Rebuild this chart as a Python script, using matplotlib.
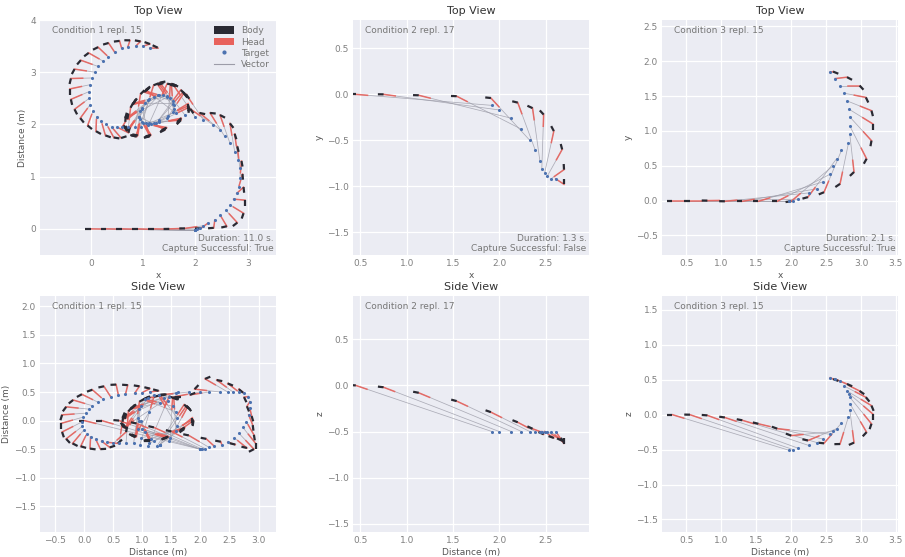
import numpy as np
import matplotlib
matplotlib.use("Agg")
import matplotlib.pyplot as plt
from matplotlib.patches import Patch
from matplotlib.lines import Line2D
from matplotlib.ticker import MultipleLocator

plt.rcParams["font.family"] = "DejaVu Sans"

# condition 1, repl. 15 : pursuer (p) and target (t) positions, x / y / z (m)
c1_px = [0.00, 0.30, 0.60, 0.90, 1.20, 1.50, 1.80, 2.10, 2.35,
         2.60, 2.80, 2.92, 2.95, 2.92, 2.90, 2.88, 2.80, 2.75, 2.66, 2.47, 2.28, 2.08,
         1.90, 1.82, 1.57, 1.32, 1.05, 0.82, 0.66, 0.68, 0.86, 1.12, 1.42, 1.72,
         1.87, 1.76, 1.52, 1.28, 1.02, 0.80, 0.70, 0.72, 0.90, 1.15, 1.45, 1.73,
         1.88, 1.78, 1.54, 1.30, 1.04, 0.81, 0.68, 0.70, 0.88, 1.13, 1.43, 1.72,
         1.86, 1.72, 1.46, 1.20, 0.95, 0.76, 0.66, 0.72,
         0.58, 0.44, 0.28, 0.10, -0.06, -0.20, -0.31, -0.38, -0.40, -0.38,
         -0.31, -0.19, -0.04, 0.14, 0.34, 0.55, 0.75, 0.95, 1.13, 1.28]
c1_py = [0.00, 0.00, 0.00, 0.00, 0.00, 0.00, 0.01, 0.01, 0.02,
         0.05, 0.12, 0.30, 0.55, 0.80, 1.05, 1.30, 1.58, 1.82, 2.02, 2.18, 2.22, 2.22,
         2.30, 2.58, 2.77, 2.80, 2.66, 2.41, 2.12, 1.89, 1.77, 1.77, 1.90, 2.08,
         2.36, 2.62, 2.76, 2.76, 2.62, 2.38, 2.10, 1.88, 1.79, 1.80, 1.94, 2.12,
         2.33, 2.60, 2.78, 2.78, 2.64, 2.40, 2.11, 1.87, 1.77, 1.78, 1.92, 2.10,
         2.40, 2.66, 2.78, 2.75, 2.58, 2.32, 2.05, 1.84,
         1.74, 1.75, 1.79, 1.87, 1.98, 2.12, 2.29, 2.48, 2.68, 2.88,
         3.06, 3.23, 3.37, 3.48, 3.56, 3.60, 3.61, 3.59, 3.54, 3.47]
c1_pz = [0.00, 0.00, 0.00, -0.05, -0.12, -0.19, -0.26, -0.32, -0.37,
         -0.42, -0.48, -0.50, -0.40, -0.25, -0.08, 0.08, 0.25, 0.41, 0.55, 0.65, 0.71, 0.73,
         0.55, 0.45, 0.42, 0.45, 0.38, 0.22, 0.05, -0.12, -0.28, -0.35, -0.30, -0.15,
         0.02, 0.26, 0.40, 0.44, 0.37, 0.20, 0.03, -0.14, -0.28, -0.34, -0.28, -0.12,
         0.00, 0.24, 0.41, 0.45, 0.38, 0.21, 0.04, -0.13, -0.29, -0.35, -0.29, -0.13,
         0.05, 0.28, 0.42, 0.42, 0.33, 0.16, -0.02, -0.20,
         -0.40, -0.47, -0.50, -0.49, -0.45, -0.40, -0.32, -0.20, -0.05, 0.10,
         0.24, 0.36, 0.46, 0.54, 0.60, 0.63, 0.62, 0.60, 0.56, 0.52]
c1_tx = [1.99, 1.99, 1.99, 1.99, 2.03, 2.08, 2.15, 2.24, 2.37,
         2.47, 2.58, 2.66, 2.73, 2.79, 2.83, 2.85, 2.85, 2.82, 2.75, 2.66, 2.56, 2.47,
         2.34, 2.15, 1.99, 1.80, 1.62, 1.58, 1.46, 1.30, 1.12, 0.98, 0.92, 0.98,
         1.12, 1.30, 1.48, 1.60, 1.58, 1.45, 1.28, 1.10, 0.97, 0.93, 1.00, 1.15,
         1.30, 1.46, 1.58, 1.60, 1.52, 1.38, 1.20, 1.04, 0.95, 0.95, 1.05, 1.20,
         1.30, 1.25, 1.10, 0.96, 0.85, 0.72, 0.60, 0.50,
         0.40, 0.30, 0.20, 0.11, 0.04, -0.01, -0.03, -0.03, -0.02, 0.03,
         0.08, 0.14, 0.24, 0.33, 0.46, 0.59, 0.71, 0.87, 1.00, 1.13]
c1_ty = [-0.03, -0.03, -0.03, -0.03, -0.01, 0.02, 0.06, 0.11, 0.17,
         0.27, 0.36, 0.46, 0.57, 0.68, 0.81, 0.97, 1.16, 1.32, 1.48, 1.64, 1.77, 1.90,
         1.99, 2.09, 2.15, 2.18, 2.22, 2.40, 2.52, 2.56, 2.48, 2.32, 2.15, 2.04,
         2.02, 2.08, 2.16, 2.30, 2.44, 2.54, 2.56, 2.47, 2.30, 2.14, 2.03, 2.00,
         2.05, 2.12, 2.24, 2.38, 2.50, 2.56, 2.53, 2.42, 2.26, 2.10, 2.02, 2.02,
         2.06, 2.02, 1.98, 1.96, 1.95, 1.95, 1.95, 1.95,
         1.95, 2.01, 2.07, 2.15, 2.25, 2.38, 2.50, 2.63, 2.76, 2.89,
         3.00, 3.11, 3.21, 3.30, 3.38, 3.46, 3.49, 3.51, 3.50, 3.47]
c1_tz = [-0.50, -0.50, -0.50, -0.50, -0.50, -0.49, -0.47, -0.45, -0.43,
         -0.38, -0.30, -0.22, -0.12, -0.02, 0.10, 0.22, 0.33, 0.42, 0.48, 0.50, 0.50, 0.50,
         0.50, 0.50, 0.50, 0.50, 0.50, 0.48, 0.42, 0.30, 0.15, 0.00, -0.15, -0.30,
         -0.40, -0.42, -0.30, -0.10, 0.15, 0.35, 0.45, 0.40, 0.25, 0.05, -0.15, -0.32,
         -0.42, -0.35, -0.18, 0.05, 0.25, 0.40, 0.45, 0.38, 0.20, 0.00, -0.20, -0.36,
         -0.42, -0.45, -0.45, -0.42, -0.40, -0.40, -0.40, -0.40,
         -0.38, -0.36, -0.33, -0.29, -0.24, -0.17, -0.10, -0.02, 0.06, 0.13,
         0.20, 0.26, 0.32, 0.37, 0.41, 0.44, 0.46, 0.48, 0.49, 0.50]

# condition 2, repl. 17
c2_px = [0.45, 0.75, 1.13, 1.54, 1.91, 2.20, 2.36, 2.48, 2.59, 2.68, 2.70, 2.70]
c2_py = [0.00, 0.00, -0.01, -0.02, -0.04, -0.09, -0.15, -0.22, -0.40, -0.60, -0.82, -0.98]
c2_pz = [0.00, -0.02, -0.08, -0.17, -0.29, -0.40, -0.47, -0.53, -0.57, -0.60, -0.62, -0.63]
c2_tx = [1.92, 2.00, 2.13, 2.24, 2.33, 2.39, 2.44, 2.46, 2.49, 2.52, 2.56, 2.61]
c2_ty = [-0.12, -0.17, -0.26, -0.38, -0.50, -0.61, -0.73, -0.81, -0.86, -0.89, -0.92, -0.92]
c2_tz = [-0.50, -0.50, -0.50, -0.50, -0.50, -0.50, -0.50, -0.50, -0.50, -0.50, -0.50, -0.50]

# condition 3, repl. 15
c3_px = [0.30, 0.55, 0.80, 1.05, 1.30, 1.53, 1.80, 2.00, 2.24, 2.47,
         2.70, 2.90, 3.08, 3.15, 3.17, 3.15, 3.07, 2.98, 2.80, 2.60]
c3_py = [0.00, 0.00, 0.00, -0.01, -0.01, -0.01, -0.01, -0.01, 0.05, 0.12,
         0.24, 0.41, 0.60, 0.86, 1.10, 1.29, 1.48, 1.65, 1.77, 1.85]
c3_pz = [0.00, 0.00, -0.01, -0.04, -0.08, -0.13, -0.20, -0.30, -0.37, -0.41,
         -0.42, -0.40, -0.25, -0.13, 0.01, 0.13, 0.25, 0.34, 0.44, 0.51]
c3_tx = [1.97, 2.03, 2.10, 2.25, 2.37, 2.46, 2.56, 2.60, 2.65, 2.72,
         2.82, 2.84, 2.84, 2.84, 2.83, 2.80, 2.76, 2.70, 2.63, 2.56]
c3_ty = [0.00, 0.00, 0.02, 0.11, 0.17, 0.27, 0.38, 0.50, 0.60, 0.72,
         0.82, 0.95, 1.07, 1.20, 1.31, 1.43, 1.54, 1.65, 1.75, 1.84]
c3_tz = [-0.51, -0.50, -0.48, -0.44, -0.40, -0.35, -0.28, -0.24, -0.20, -0.12,
         -0.03, 0.07, 0.16, 0.25, 0.30, 0.34, 0.41, 0.48, 0.51, 0.53]

conditions = ["Condition 1 repl. 15", "Condition 2 repl. 17", "Condition 3 repl. 15"]
durations = [11.0, 1.3, 2.1]
captured = [True, False, True]

BODY = "#2a2a33"
HEAD = "#e8625c"
TARGET = "#4c72b0"
VECTOR = "#9c9ca8"


def draw_run(ax, px, py, tx, ty, body_len, head_len):
    px, py, tx, ty = map(np.asarray, (px, py, tx, ty))
    # heading of the body from consecutive positions
    dx, dy = np.gradient(px), np.gradient(py)
    n = np.hypot(dx, dy)
    n[n == 0] = 1
    ux, uy = dx / n, dy / n
    # head points at the target
    vx, vy = tx - px, ty - py
    d = np.hypot(vx, vy)
    L = np.minimum(head_len, d)
    d[d == 0] = 1
    hx, hy = px + vx / d * L, py + vy / d * L

    ax.plot([px, tx], [py, ty], color=VECTOR, lw=0.55, alpha=0.8, zorder=2)
    ax.plot([px, hx], [py, hy], color=HEAD, lw=1.1, alpha=0.9, zorder=3)
    ax.plot([px - body_len * ux, px], [py - body_len * uy, py], color=BODY,
            lw=1.6, solid_capstyle="butt", zorder=3)
    ax.scatter(tx, ty, s=5, color=TARGET, lw=0, zorder=4)


fig = plt.figure(figsize=(9.05, 5.57), dpi=100)
W, H = 905, 557
lefts = [40, 353, 662]

runs = [
    (c1_px, c1_py, c1_pz, c1_tx, c1_ty, c1_tz),
    (c2_px, c2_py, c2_pz, c2_tx, c2_ty, c2_tz),
    (c3_px, c3_py, c3_pz, c3_tx, c3_ty, c3_tz),
]
top_lims = [((-0.97, 3.54), (-0.5, 4.0)), ((0.42, 2.97), (-1.75, 0.81)), ((0.15, 3.53), (-0.78, 2.59))]
side_lims = [((-0.76, 3.30), (-1.95, 2.18)), ((0.42, 2.97), (-1.59, 0.97)), ((0.15, 3.53), (-1.68, 1.70))]
top_steps = [(1, 1), (0.5, 0.5), (0.5, 0.5)]
side_steps = [(0.5, 0.5), (0.5, 0.5), (0.5, 0.5)]
top_ylabels = ["Distance (m)", "y", "y"]
side_ylabels = ["Distance (m)", "z", "z"]


def style(ax, xlim, ylim, steps):
    ax.set_facecolor("#ebecf3")
    for s in ax.spines.values():
        s.set_visible(False)
    ax.grid(True, color="white", lw=0.9)
    ax.set_axisbelow(True)
    ax.set_xlim(*xlim)
    ax.set_ylim(*ylim)
    ax.xaxis.set_major_locator(MultipleLocator(steps[0]))
    ax.yaxis.set_major_locator(MultipleLocator(steps[1]))
    ax.tick_params(length=0, labelsize=6.5, labelcolor="#808080", pad=3)


for i in range(3):
    px, py, pz, tx, ty, tz = runs[i]
    w = 236 / W
    h = 235 / H

    # top view
    ax = fig.add_axes([lefts[i] / W, (H - 255) / H, w, h])
    xlim, ylim = top_lims[i]
    style(ax, xlim, ylim, top_steps[i])
    span = xlim[1] - xlim[0]
    draw_run(ax, px, py, tx, ty, span * 0.024, span * 0.05)
    ax.set_title("Top View", fontsize=8, color="#333333", pad=4)
    ax.set_xlabel("x", fontsize=6.5, color="#555555", labelpad=2)
    ax.set_ylabel(top_ylabels[i], fontsize=6.5, color="#555555", labelpad=2)
    ax.text(0.05, 0.975, conditions[i], transform=ax.transAxes, fontsize=6.5,
            color="#777777", ha="left", va="top")
    ax.text(0.99, 0.01, "Duration: %.1f s.\nCapture Successful: %s" % (durations[i], captured[i]),
            transform=ax.transAxes, fontsize=6.5, color="#777777", ha="right", va="bottom",
            multialignment="right", linespacing=1.15)
    if i == 0:
        handles = [Patch(facecolor=BODY, label="Body"),
                   Patch(facecolor=HEAD, label="Head"),
                   Line2D([], [], ls="none", marker="o", ms=2, color=TARGET, label="Target"),
                   Line2D([], [], color=VECTOR, lw=0.8, label="Vector")]
        leg = ax.legend(handles=handles, loc="upper right", frameon=False, fontsize=6.5,
                        handlelength=2.2, handleheight=0.9, labelspacing=0.25,
                        borderaxespad=0.3)
        for t in leg.get_texts():
            t.set_color("#777777")

    # side view
    ax = fig.add_axes([lefts[i] / W, (H - 532) / H, w, 236 / H])
    xlim, ylim = side_lims[i]
    style(ax, xlim, ylim, side_steps[i])
    span = xlim[1] - xlim[0]
    draw_run(ax, px, pz, tx, tz, span * 0.024, span * 0.05)
    ax.set_title("Side View", fontsize=8, color="#333333", pad=4)
    ax.set_xlabel("Distance (m)", fontsize=6.5, color="#555555", labelpad=2)
    ax.set_ylabel(side_ylabels[i], fontsize=6.5, color="#555555", labelpad=2)
    ax.text(0.05, 0.975, conditions[i], transform=ax.transAxes, fontsize=6.5,
            color="#777777", ha="left", va="top")

fig.savefig("out.png", dpi=100)
